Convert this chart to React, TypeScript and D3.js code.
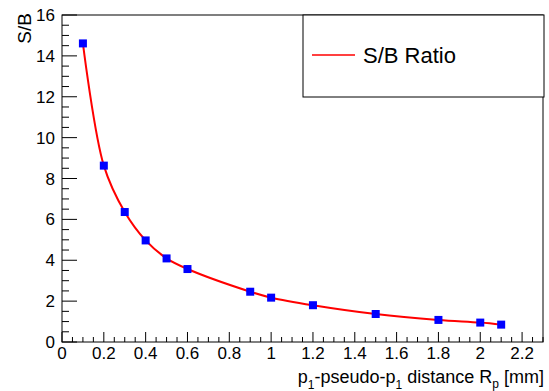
import React from "react";
import * as d3 from "d3";

const xValues = [0.1, 0.2, 0.3, 0.4, 0.5, 0.6, 0.9, 1.0, 1.2, 1.5, 1.8, 2.0, 2.1];
const yValues = [14.61, 8.63, 6.36, 4.97, 4.09, 3.57, 2.46, 2.17, 1.8, 1.37, 1.08, 0.95, 0.85];
const xTickLabels = ["0", "0.2", "0.4", "0.6", "0.8", "1", "1.2", "1.4", "1.6", "1.8", "2", "2.2"];
const yTickLabels = ["0", "2", "4", "6", "8", "10", "12", "14", "16"];
const legendLabel = "S/B Ratio";

const W = 549, H = 391;
const L = 62, R = 543, T = 15, B = 342;
const FONT = "'Liberation Sans', Arial, Helvetica, sans-serif";

export default function App() {
  const x = d3.scaleLinear().domain([0, 2.3]).range([L, R]);
  const y = d3.scaleLinear().domain([0, 16]).range([B, T]);
  const pts: [number, number][] = xValues.map((v, i) => [v, yValues[i]]);
  const line = d3
    .line<[number, number]>()
    .x((d) => x(d[0]))
    .y((d) => y(d[1]))
    .curve(d3.curveCatmullRom.alpha(0.5));

  const xMinor = d3.range(0, 2.3001, 0.05);
  const yMinor = d3.range(0, 16.001, 0.5);

  return (
    <svg
      width={W}
      height={H}
      style={{ position: "absolute", left: 0, top: 0, background: "#fff" }}
      fontFamily={FONT}
    >
      <rect x={0} y={0} width={W} height={H} fill="#fff" />
      {xMinor.map((v, i) => {
        const major = Math.abs(v / 0.2 - Math.round(v / 0.2)) < 1e-6;
        return (
          <line
            key={"xm" + i}
            x1={x(v)}
            x2={x(v)}
            y1={B}
            y2={B - (major ? 10 : 5)}
            stroke="#000"
            strokeWidth={1}
          />
        );
      })}
      {yMinor.map((v, i) => {
        const major = Math.abs(v / 2 - Math.round(v / 2)) < 1e-6;
        return (
          <line
            key={"ym" + i}
            x1={L}
            x2={L + (major ? 15 : 7)}
            y1={y(v)}
            y2={y(v)}
            stroke="#000"
            strokeWidth={1}
          />
        );
      })}
      <rect x={L} y={T} width={R - L} height={B - T} fill="none" stroke="#000" strokeWidth={1} />
      {xTickLabels.map((t, i) => (
        <text key={"xl" + i} x={x(+t)} y={359} fontSize={17} textAnchor="middle" fill="#000">
          {t}
        </text>
      ))}
      {yTickLabels.map((t, i) => (
        <text key={"yl" + i} x={55} y={y(+t) + 6} fontSize={17} textAnchor="end" fill="#000">
          {t}
        </text>
      ))}
      <text
        transform={`translate(31,13) rotate(-90)`}
        fontSize={19}
        textAnchor="end"
        fill="#000"
      >
        S/B
      </text>
      <text x={544} y={383} fontSize={18} textAnchor="end" fill="#000">
        p<tspan fontSize={12} dy={6}>1</tspan>
        <tspan dy={-6}>-pseudo-p</tspan>
        <tspan fontSize={12} dy={6}>1</tspan>
        <tspan dy={-6}> distance R</tspan>
        <tspan fontSize={12} dy={5}>p</tspan>
        <tspan dy={-5}> [mm]</tspan>
      </text>
      <path d={line(pts) || ""} fill="none" stroke="#ff0000" strokeWidth={2} />
      {pts.map((p, i) => (
        <rect
          key={"m" + i}
          x={x(p[0]) - 4}
          y={y(p[1]) - 4}
          width={8}
          height={8}
          fill="#0000ff"
        />
      ))}
      <rect x={303} y={15} width={241} height={82} fill="#fff" stroke="#000" strokeWidth={1} />
      <line x1={312} x2={355} y1={55} y2={55} stroke="#ff0000" strokeWidth={1.5} />
      <text x={363} y={63} fontSize={22} fill="#000">
        {legendLabel}
      </text>
    </svg>
  );
}
